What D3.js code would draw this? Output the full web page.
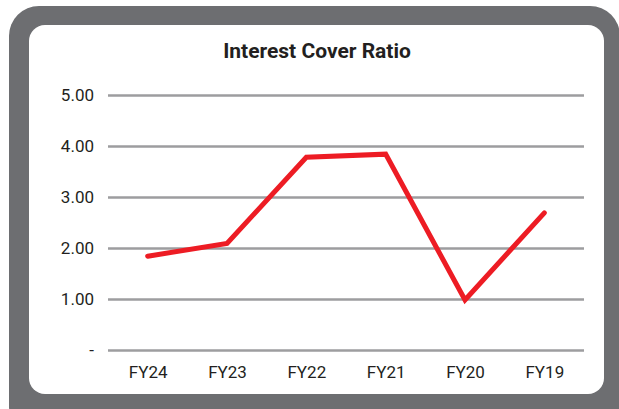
<!DOCTYPE html>
<html>
<head>
<meta charset="utf-8">
<script src="https://cdn.jsdelivr.net/npm/d3@7"></script>
<style>
  html, body { margin: 0; padding: 0; background: #ffffff; }
  svg { display: block; }
</style>
</head>
<body>
<svg id="chart" width="619" height="409"></svg>
<script>
const title = "Interest Cover Ratio";
const categories = ["FY24", "FY23", "FY22", "FY21", "FY20", "FY19"];
const values = [1.84, 2.09, 3.78, 3.84, 0.98, 2.69];
const yTicks = [0, 1, 2, 3, 4, 5];

const svg = d3.select("#chart");

// frame
svg.append("rect").attr("x", 9).attr("y", 6).attr("width", 611).attr("height", 430)
  .attr("rx", 30).attr("fill", "#6d6e71");
svg.append("rect").attr("x", 29).attr("y", 25).attr("width", 575).attr("height", 369)
  .attr("rx", 16).attr("fill", "#ffffff");

const x = d3.scalePoint().domain(categories).range([108, 584]).padding(0.5);
const y = d3.scaleLinear().domain([0, 5]).range([350, 95]);

// title
svg.append("text").attr("x", 317).attr("y", 58).attr("text-anchor", "middle")
  .attr("font-family", "Roboto, sans-serif").attr("font-weight", "bold")
  .attr("font-size", 21).attr("fill", "#231f20").text(title);

// grid
const yAxis = d3.axisLeft(y).tickValues(yTicks)
  .tickSize(-(584 - 108)).tickPadding(14)
  .tickFormat(d => d === 0 ? "-" : d.toFixed(2));
const gy = svg.append("g").attr("transform", "translate(108,0)").call(yAxis);
gy.select(".domain").remove();
gy.selectAll(".tick line").attr("stroke", "#9d9d9f").attr("stroke-width", 2.5);
gy.selectAll(".tick text").attr("font-family", "Roboto, sans-serif").attr("font-size", 17)
  .attr("fill", "#231f20");

const xAxis = d3.axisBottom(x).tickSize(0).tickPadding(16);
const gx = svg.append("g").attr("transform", "translate(0,350)").call(xAxis);
gx.select(".domain").remove();
gx.selectAll(".tick text").attr("font-family", "Roboto, sans-serif").attr("font-size", 17)
  .attr("fill", "#231f20");

// line
const line = d3.line().x((d, i) => x(categories[i])).y(d => y(d));
svg.append("path").datum(values).attr("d", line)
  .attr("fill", "none").attr("stroke", "#ed1c24").attr("stroke-width", 5)
  .attr("stroke-linecap", "round").attr("stroke-linejoin", "miter");
</script>
</body>
</html>
